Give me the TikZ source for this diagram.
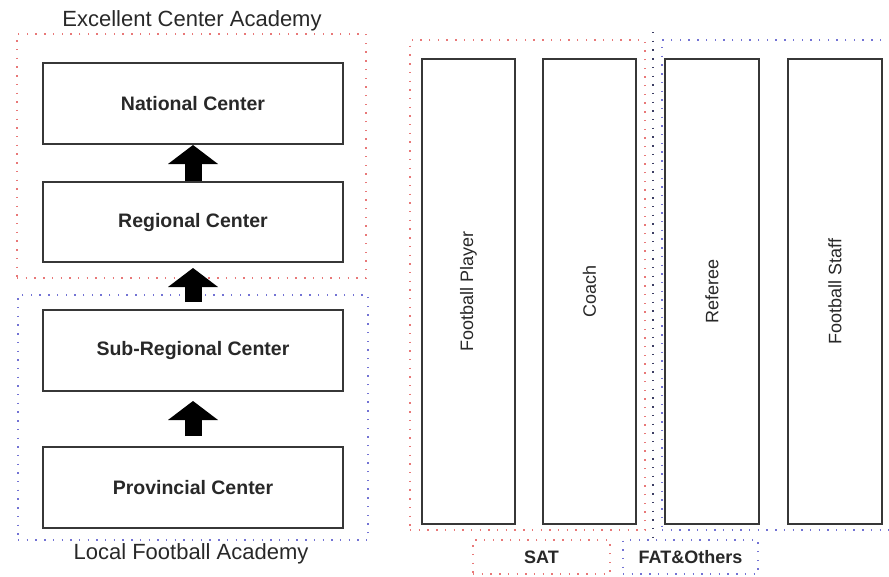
\documentclass[tikz,border=0pt]{standalone}
\usepackage{fontspec}
\setmainfont{Liberation Sans}
\usetikzlibrary{arrows.meta}
\definecolor{boxgray}{RGB}{55,55,55}
\definecolor{txtgray}{RGB}{40,40,40}
\definecolor{reddot}{RGB}{232,120,120}
\definecolor{bluedot}{RGB}{115,115,212}
\definecolor{navydot}{RGB}{60,62,100}

\begin{document}
\begin{tikzpicture}[x=1pt,y=-1pt,
    >={Triangle[width=50pt,length=19pt,line width=0pt]},
    level/.style={draw=boxgray,line width=2pt,minimum width=300pt,minimum height=81pt,inner sep=0pt,
      text=txtgray,font=\fontsize{19.5}{22}\selectfont\bfseries},
    role/.style={draw=boxgray,line width=2pt,minimum width=465pt,minimum height=93pt,inner sep=0pt,
      rotate=90,text=txtgray,font=\fontsize{18}{20}\selectfont},
    frame/.style={line width=2.6pt,dash pattern=on 1.4pt off 7.3pt,inner sep=0pt},
    title/.style={text=txtgray,font=\fontsize{22}{24}\selectfont},
    tag/.style={frame,text=txtgray,font=\fontsize{18}{20}\selectfont\bfseries,minimum height=34pt}]
    \useasboundingbox (0,0) rectangle (889,576);
    \node at (191.5,156)[frame,draw=reddot,minimum width=349pt,minimum height=244pt] (excel){};
    \node at (193,417.5)[frame,draw=bluedot,minimum width=350pt,minimum height=245pt] (local){};
    \node at (192,21)[title] (exceltitle){Excellent Center Academy};
    \node at (191,554)[title] (localtitle){Local Football Academy};
    \node at (193,103.5)[level] (nat){National Center};
    \node at (193,222)[level,minimum height=80pt] (reg){Regional Center};
    \node at (193,350.5)[level] (sub){Sub-Regional Center};
    \node at (193,487.5)[level] (prov){Provincial Center};
    \draw[->,line width=17pt] (reg.north) -- (nat.south);
    \draw[->,line width=17pt,shorten <=7pt,shorten >=5pt] (sub.north) -- (reg.south);
    \draw[->,line width=17pt,shorten <=10pt,shorten >=9pt] (prov.north) -- (sub.south);
    \node at (527.5,285)[frame,draw=reddot,minimum width=235pt,minimum height=490pt] (satgroup){};
    \node at (777,285)[frame,draw=bluedot,minimum width=230pt,minimum height=490pt] (fatgroup){};
    \coordinate (septop) at (653,32);
    \coordinate (sepbot) at (653,543);
    \draw[frame,draw=navydot] (septop) -- (sepbot);
    \node at (468.5,291.5)[role] (player){Football Player};
    \node at (589.5,291.5)[role] (coach){Coach};
    \node at (712,291.5)[role,minimum height=94pt] (referee){Referee};
    \node at (835,291.5)[role,minimum height=94pt] (staff){Football Staff};
    \node at (541.5,557)[tag,draw=reddot,minimum width=137pt] (sat){SAT};
    \node at (690.5,557)[tag,draw=bluedot,minimum width=135pt] (fat){FAT\&Others};
  \end{tikzpicture}
\end{document}
